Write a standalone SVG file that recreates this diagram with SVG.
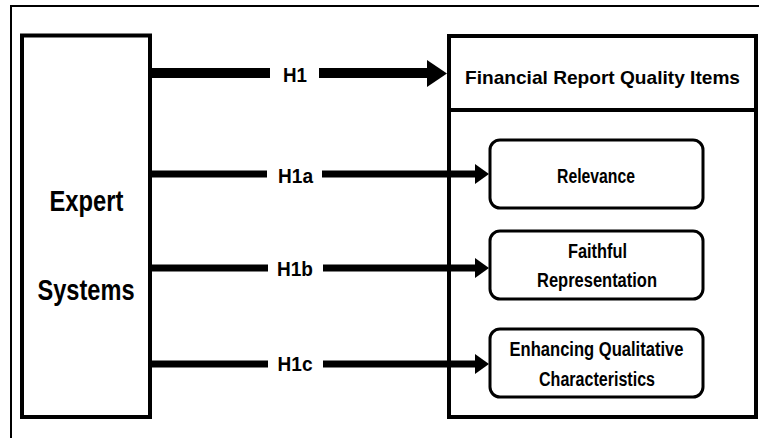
<svg xmlns="http://www.w3.org/2000/svg" width="759" height="438" viewBox="0 0 759 438">
<style>
.t{font-family:"Liberation Sans",Arial,sans-serif;font-weight:bold;fill:#000;text-anchor:middle}
.box{fill:#fff;stroke:#000;stroke-width:4}
.rbox{fill:#fff;stroke:#000;stroke-width:3}
.ln{stroke:#000;fill:none}
.hd{fill:#000}
</style>
<rect x="0" y="0" width="759" height="438" fill="#fff"/>
<rect id="frame" x="11" y="6" width="760" height="450" fill="none" stroke="#000" stroke-width="2"/>
<g id="expert">
<rect class="box" x="22" y="35.5" width="128" height="381.5"/>
<text class="t" x="86.5" y="211" font-size="29" textLength="74" lengthAdjust="spacingAndGlyphs">Expert</text>
<text class="t" x="86" y="300" font-size="29" textLength="97" lengthAdjust="spacingAndGlyphs">Systems</text>
</g>
<g id="frq">
<rect class="box" x="449" y="36" width="307" height="381"/>
<line x1="449" y1="110" x2="756" y2="110" stroke="#000" stroke-width="4"/>
<text class="t" x="602.5" y="84" font-size="19" textLength="275" lengthAdjust="spacingAndGlyphs">Financial Report Quality Items</text>
</g>
<g id="relevance">
<rect class="rbox" x="490" y="140" width="213" height="68" rx="10"/>
<text class="t" x="596" y="183" font-size="20" textLength="78" lengthAdjust="spacingAndGlyphs">Relevance</text>
</g>
<g id="faithful">
<rect class="rbox" x="490" y="231" width="213" height="68" rx="10"/>
<text class="t" x="597.5" y="258" font-size="20" textLength="59" lengthAdjust="spacingAndGlyphs">Faithful</text>
<text class="t" x="597" y="287" font-size="20" textLength="120" lengthAdjust="spacingAndGlyphs">Representation</text>
</g>
<g id="enhancing">
<rect class="rbox" x="490" y="329" width="213" height="68" rx="10"/>
<text class="t" x="596.5" y="356" font-size="20" textLength="174" lengthAdjust="spacingAndGlyphs">Enhancing Qualitative</text>
<text class="t" x="597" y="386" font-size="20" textLength="116" lengthAdjust="spacingAndGlyphs">Characteristics</text>
</g>
<g id="connectors">
<g id="c-h1">
<line class="ln" x1="152" y1="73" x2="270" y2="73" stroke-width="10"/>
<line class="ln" x1="319" y1="73" x2="428" y2="73" stroke-width="10"/>
<polygon class="hd" points="427,60 447,73.5 427,87"/>
<text class="t" x="295" y="82" font-size="20" textLength="24" lengthAdjust="spacingAndGlyphs">H1</text>
</g>
<g id="c-h1a">
<line class="ln" x1="152" y1="174" x2="267" y2="174" stroke-width="7"/>
<line class="ln" x1="322" y1="174" x2="476" y2="174" stroke-width="7"/>
<polygon class="hd" points="475,164 489,174 475,184"/>
<text class="t" x="295.5" y="183" font-size="20" textLength="35" lengthAdjust="spacingAndGlyphs">H1a</text>
</g>
<g id="c-h1b">
<line class="ln" x1="152" y1="268" x2="268" y2="268" stroke-width="7"/>
<line class="ln" x1="323" y1="268" x2="476" y2="268" stroke-width="7"/>
<polygon class="hd" points="475,258 489,268 475,278"/>
<text class="t" x="295" y="276" font-size="20" textLength="36" lengthAdjust="spacingAndGlyphs">H1b</text>
</g>
<g id="c-h1c">
<line class="ln" x1="152" y1="364" x2="268" y2="364" stroke-width="7"/>
<line class="ln" x1="323" y1="364" x2="476" y2="364" stroke-width="7"/>
<polygon class="hd" points="475,354 489,364 475,374"/>
<text class="t" x="295" y="371" font-size="20" textLength="35" lengthAdjust="spacingAndGlyphs">H1c</text>
</g>
</g>
</svg>
